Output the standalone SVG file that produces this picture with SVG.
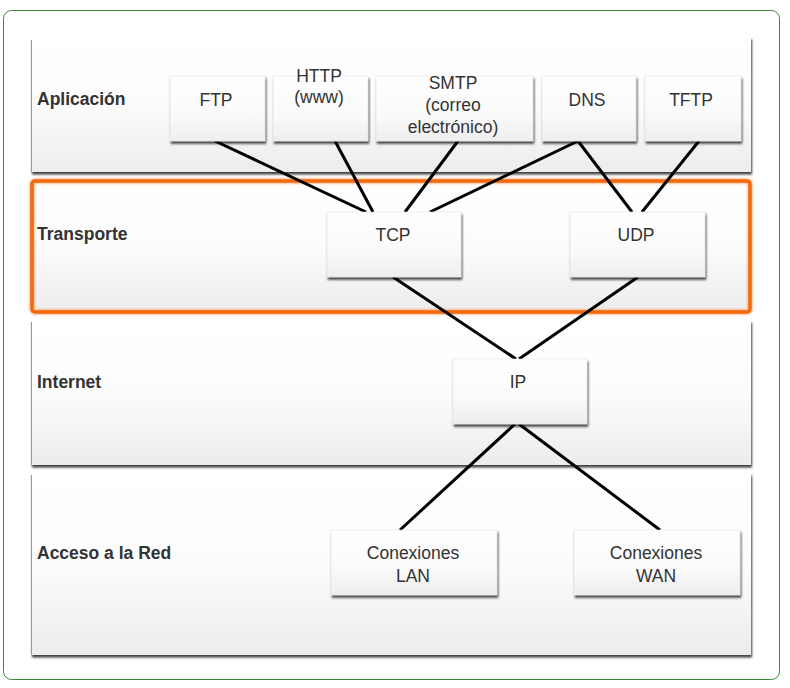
<svg xmlns="http://www.w3.org/2000/svg" width="790" height="688" viewBox="0 0 790 688">
<style>
.lbl{font-family:"Liberation Sans",Arial,sans-serif;font-size:17.5px;font-weight:bold;fill:#333}
.t{font-family:"Liberation Sans",Arial,sans-serif;font-size:17.5px;fill:#333;text-anchor:middle}
.band{fill:url(#bg);stroke:none}
.box{fill:url(#bx);stroke:#ddd;stroke-width:0.5}
.ln{stroke:#000;stroke-width:3;fill:none}
</style>
<defs>
<linearGradient id="bg" x1="0" y1="0" x2="0" y2="1"><stop offset="0" stop-color="#ffffff"/><stop offset="0.5" stop-color="#fcfcfc"/><stop offset="1" stop-color="#ececec"/></linearGradient>
<linearGradient id="bx" x1="0" y1="0" x2="0" y2="1"><stop offset="0" stop-color="#ffffff"/><stop offset="0.6" stop-color="#fafafa"/><stop offset="1" stop-color="#eeeeee"/></linearGradient>
<filter id="sh" x="-10%" y="-10%" width="130%" height="130%"><feDropShadow dx="1" dy="2.5" stdDeviation="0.8" flood-color="#000" flood-opacity="0.75"/></filter>
<filter id="glow" x="-5%" y="-5%" width="110%" height="110%"><feGaussianBlur stdDeviation="1.2"/></filter>
</defs>
<rect x="0" y="0" width="790" height="688" fill="#fff"/>
<rect x="3.5" y="10.5" width="776" height="669" rx="8" fill="#fff" stroke="#3a8a3a" stroke-width="1"/>
<g id="layers">
<g id="layer-app"><rect class="band" x="31" y="37" width="720" height="135" filter="url(#sh)"/><line x1="31.5" y1="40" x2="31.5" y2="172" stroke="#999"/><text class="lbl" x="37" y="105">Aplicación</text></g>
<g id="layer-transport"><rect class="band" x="31" y="180" width="720" height="133"/><text class="lbl" x="37" y="240">Transporte</text></g>
<g id="layer-internet"><rect class="band" x="31" y="320" width="720" height="145" filter="url(#sh)"/><line x1="31.5" y1="322" x2="31.5" y2="465" stroke="#999"/><text class="lbl" x="37" y="388">Internet</text></g>
<g id="layer-access"><rect class="band" x="31" y="473" width="720" height="182" filter="url(#sh)"/><line x1="31.5" y1="475" x2="31.5" y2="655" stroke="#999"/><text class="lbl" x="37" y="559">Acceso a la Red</text></g>
</g>
<g id="highlight">
<rect x="32" y="181" width="718" height="131" rx="3" fill="none" stroke="#ff7a20" stroke-width="5" opacity="0.6" filter="url(#glow)"/>
<rect x="32" y="181" width="718" height="131" rx="3" fill="none" stroke="#f26a0c" stroke-width="3.5"/>
</g>
<g id="connectors">
<line class="ln" x1="215" y1="141" x2="366" y2="212"/>
<line class="ln" x1="335" y1="141" x2="373" y2="212"/>
<line class="ln" x1="458" y1="141" x2="405" y2="212"/>
<line class="ln" x1="578" y1="141" x2="430" y2="212"/>
<line class="ln" x1="578" y1="141" x2="632" y2="212"/>
<line class="ln" x1="699" y1="141" x2="642" y2="212"/>
<line class="ln" x1="393" y1="277" x2="516" y2="359"/>
<line class="ln" x1="638" y1="277" x2="519" y2="359"/>
<line class="ln" x1="515" y1="424" x2="400" y2="530"/>
<line class="ln" x1="519" y1="424" x2="660" y2="530"/>
</g>
<g id="n-ftp"><rect class="box" x="170" y="76" width="95" height="65" filter="url(#sh)"/><text class="t" x="216" y="106">FTP</text></g>
<g id="n-http"><rect class="box" x="273" y="76" width="95" height="65" filter="url(#sh)"/><text class="t" x="319" y="82">HTTP</text><text class="t" x="319" y="103">(www)</text></g>
<g id="n-smtp"><rect class="box" x="376" y="76" width="157" height="65" filter="url(#sh)"/><text class="t" x="453" y="89">SMTP</text><text class="t" x="453" y="111">(correo</text><text class="t" x="453" y="133">electrónico)</text></g>
<g id="n-dns"><rect class="box" x="542" y="76" width="94" height="65" filter="url(#sh)"/><text class="t" x="587" y="106">DNS</text></g>
<g id="n-tftp"><rect class="box" x="645" y="76" width="96" height="65" filter="url(#sh)"/><text class="t" x="691" y="106">TFTP</text></g>
<g id="n-tcp"><rect class="box" x="327" y="212" width="134" height="65" filter="url(#sh)"/><text class="t" x="393" y="241">TCP</text></g>
<g id="n-udp"><rect class="box" x="570" y="212" width="135" height="65" filter="url(#sh)"/><text class="t" x="636" y="241">UDP</text></g>
<g id="n-ip"><rect class="box" x="453" y="359" width="134" height="65" filter="url(#sh)"/><text class="t" x="518" y="388">IP</text></g>
<g id="n-lan"><rect class="box" x="331" y="530" width="166" height="65" filter="url(#sh)"/><text class="t" x="413" y="559">Conexiones</text><text class="t" x="413" y="582">LAN</text></g>
<g id="n-wan"><rect class="box" x="574" y="530" width="166" height="65" filter="url(#sh)"/><text class="t" x="656" y="559">Conexiones</text><text class="t" x="656" y="582">WAN</text></g>
</svg>
